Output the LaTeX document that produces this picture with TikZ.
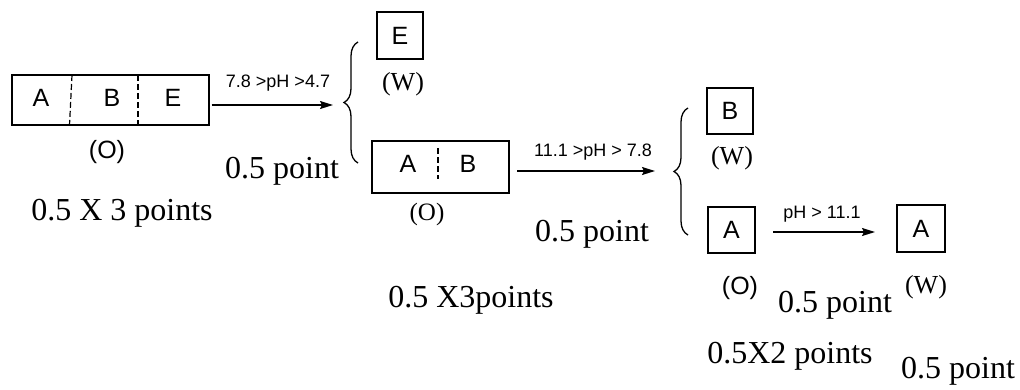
\documentclass[tikz,border=0pt]{standalone}
\usepackage{fontspec}
\setmainfont{Liberation Serif}
\setsansfont{Liberation Sans}
\usetikzlibrary{arrows.meta,decorations.pathreplacing}
\tikzset{
  box/.style={draw, line width=1.4pt, inner sep=0pt},
  letter/.style={font=\sffamily\fontsize{25}{30}\selectfont, inner sep=0pt},
  cond/.style={font=\sffamily\fontsize{18}{22}\selectfont, inner sep=0pt, anchor=base},
  phase/.style={font=\sffamily\fontsize{25}{30}\selectfont, inner sep=0pt, anchor=base},
  sphase/.style={font=\rmfamily\fontsize{26}{30}\selectfont, inner sep=0pt, anchor=base},
  score/.style={font=\rmfamily\fontsize{32}{38}\selectfont, inner sep=0pt, anchor=base},
  arr/.style={line width=1.4pt, -{Stealth[length=13pt,width=8pt,inset=2pt]}},
  divider/.style={line width=1.2pt, dash pattern=on 6pt off 3pt},
  curly/.style={line width=1.3pt, decorate, decoration={brace, amplitude=14pt}}
}
\begin{document}
\begin{tikzpicture}[x=1pt,y=-1pt]
\useasboundingbox (0,0) rectangle (1020,389);
% first box
\node[box, minimum width=197pt, minimum height=50pt] (b1) at (110.5,100) {};
\draw[divider] (72,75) -- (69.5,125);
\draw[divider] (138,75) -- (138,125);
\node[letter] (b1a) at (41,97.5) {A};
\node[letter] (b1b) at (112,97.5) {B};
\node[letter] (b1e) at (173,97.5) {E};
\node[phase] (b1o) at (107,158) {(O)};
\node[score] (s1) at (122,220) {0.5 X 3 points};
% arrow 1
\draw[arr] (b1.east) ++(2,5) coordinate (a1s) -- (a1s -| 333,0) coordinate (a1e);
\node[cond] (c1) at (278,87) {7.8 >pH >4.7};
\draw[curly] (358,163) coordinate (br1b) -- (358,42) coordinate (br1t);
% E box
\node[box, minimum width=46pt, minimum height=47pt] (e) at (400,35.5) {};
\node[letter] (el) at (e.center) {E};
\node[sphase] (ew) at (403,90) {(W)};
\node[score] (s2) at (282,178) {0.5 point};
% second box
\node[box, minimum width=137pt, minimum height=52pt] (b2) at (440.5,167) {};
\draw[divider] (438,148) -- (438,179);
\node[letter] (b2a) at (408,164) {A};
\node[letter] (b2b) at (468,164) {B};
\node[sphase, font=\rmfamily\fontsize{25}{30}\selectfont] (b2o) at (427,220) {(O)};
\node[score] (s3) at (471,307) {0.5 X3points};
% arrow 2
\draw[arr] (517,171) coordinate (a2s) -- (655,171) coordinate (a2e);
\node[cond] (c2) at (593,156) {11.1 >pH > 7.8};
\node[score] (s4) at (592,241) {0.5 point};
\draw[curly] (688,235) coordinate (br2b) -- (688,108) coordinate (br2t);
% B box
\node[box, minimum width=46pt, minimum height=46pt] (bw) at (730,111) {};
\node[letter] (bl) at (bw.center) {B};
\node[sphase] (bww) at (732,164) {(W)};
% A box (O)
\node[box, minimum width=47pt, minimum height=46pt] (ao) at (731.5,230) {};
\node[letter] (aol) at (ao.center) {A};
\node[phase] (aoo) at (740,294) {(O)};
% arrow 3
\node[box, minimum width=48pt, minimum height=47pt] (aw) at (921,228.5) {};
\node[letter] (awl) at (aw.center) {A};
\draw[arr] (773,232) coordinate (a3s) -- (875,232) coordinate (a3e);
\node[cond] (c3) at (822,218) {pH > 11.1};
\node[sphase] (aww) at (926,293) {(W)};
\node[score] (s5) at (835,312) {0.5 point};
\node[score] (s6) at (790,363) {0.5X2 points};
\node[score] (s7) at (958,378) {0.5 point};
\end{tikzpicture}
\end{document}
